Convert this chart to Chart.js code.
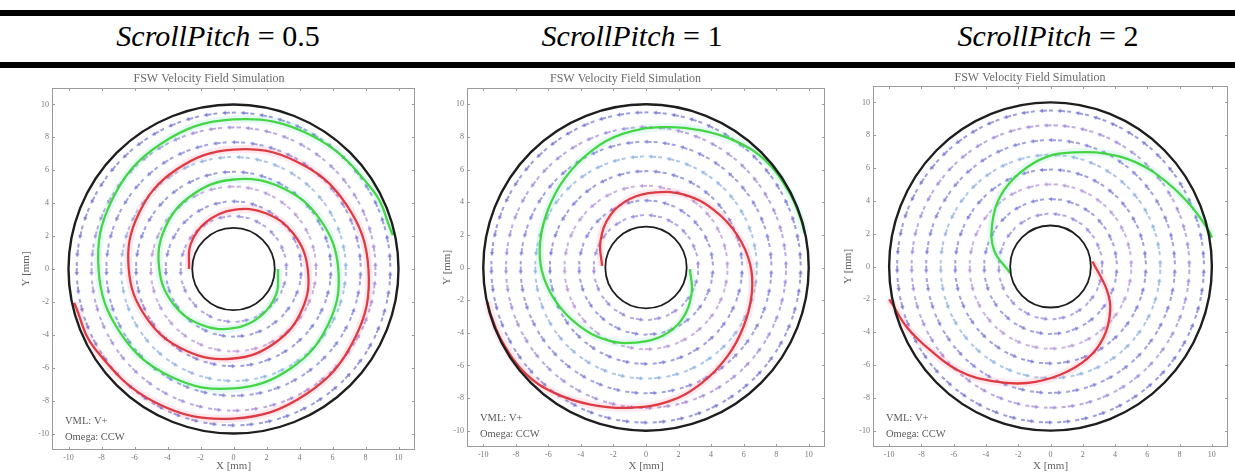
<!DOCTYPE html>
<html>
<head>
<meta charset="utf-8">
<script src="https://cdn.jsdelivr.net/npm/chart.js@4.4.0/dist/chart.umd.min.js"></script>
<style>
  body { margin: 0; width: 1235px; height: 473px; background: #fff; position: relative; overflow: hidden; font-family: "Liberation Serif", serif; }
  .rule { position: absolute; left: 0; width: 1235px; background: #000; }
  .head { position: absolute; top: 19px; font-size: 30px; line-height: 34px; white-space: nowrap; transform: translateX(-50%); color: #000; font-family: "Liberation Serif", serif; }
  .head i { font-style: italic; }
  .panel { position: absolute; top: 70px; height: 403px; }
</style>
</head>
<body>
<div class="rule" style="top:10px;height:6px"></div>
<div class="rule" style="top:62px;height:6px"></div>
<div class="head" style="left:218px"><i>ScrollPitch</i> = 0.5</div>
<div class="head" style="left:632px"><i>ScrollPitch</i> = 1</div>
<div class="head" style="left:1048px"><i>ScrollPitch</i> = 2</div>
<div class="panel" style="left:0;width:422px"><canvas id="c0"></canvas></div>
<div class="panel" style="left:422px;width:410px"><canvas id="c1"></canvas></div>
<div class="panel" style="left:832px;width:403px"><canvas id="c2"></canvas></div>

<script>
// Data
const pitches = ['0.5', '1', '2'];
const xTicks = [-10, -8, -6, -4, -2, 0, 2, 4, 6, 8, 10];
const yTicks = [-10, -8, -6, -4, -2, 0, 2, 4, 6, 8, 10];
const outerRadius = 10;
const innerRadius = 2.5;
const ringRadii = [3.2, 4.1, 5.0, 5.9, 6.8, 7.7, 8.6, 9.5];
const ringCounts = [18, 23, 28, 33, 38, 43, 48, 53];
const notes = ['VML: V+', 'Omega: CCW'];

// spiral tracks, [x, y] in mm
const redPitch05 = [[-2.7,0.0],[-2.6,1.5],[-1.65,2.86],[0,3.6],[1.96,3.39],[3.66,2.11],[4.5,0],[4.18,-2.42],[2.57,-4.45],[0,-5.44],[-2.87,-4.97],[-5.24,-3.02],[-6.35,0],[-5.76,3.33],[-3.48,6.03],[0,7.26],[3.78,6.55],[6.82,3.94],[8.18,0],[7.34,-4.24],[4.39,-7.61],[0,-9.09],[-4.7,-8.13],[-8.4,-4.85],[-9.66,-2.05]];
const greenPitch05 = [[2.7,0.0],[2.6,-1.5],[1.65,-2.86],[0,-3.6],[-1.96,-3.39],[-3.66,-2.11],[-4.5,0],[-4.18,2.42],[-2.57,4.45],[0,5.44],[2.87,4.97],[5.24,3.02],[6.35,0],[5.76,-3.33],[3.48,-6.03],[0,-7.26],[-3.78,-6.55],[-6.82,-3.94],[-8.18,0],[-7.34,4.24],[-4.39,7.61],[0,9.09],[4.7,8.13],[8.4,4.85],[9.66,2.05]];
const redPitch1 = [[-2.7,0.1],[-2.8,1.6],[-2.2,3.2],[-1.0,4.2],[0.6,4.6],[2.4,4.45],[4.2,3.5],[5.6,2.0],[6.4,0.2],[6.5,-1.6],[6.0,-3.6],[5.0,-5.45],[3.4,-7.1],[1.4,-8.2],[-1.0,-8.6],[-3.4,-8.4],[-5.6,-7.7],[-7.4,-6.5],[-8.8,-4.6],[-9.5,-3.0],[-9.75,-2.1]];
const greenPitch1 = [[2.7,-0.1],[2.8,-1.6],[2.2,-3.2],[1.0,-4.2],[-0.6,-4.6],[-2.4,-4.45],[-4.2,-3.5],[-5.6,-2.0],[-6.4,-0.2],[-6.5,1.6],[-6.0,3.6],[-5.0,5.45],[-3.4,7.1],[-1.4,8.2],[1.0,8.6],[3.4,8.4],[5.6,7.7],[7.4,6.5],[8.8,4.6],[9.5,3.0],[9.75,2.1]];
const redPitch2 = [[2.6,0.3],[3.5,-1.45],[3.7,-2.7],[3.3,-4.3],[2.3,-5.6],[0.6,-6.6],[-1.45,-7.1],[-3.5,-7.0],[-5.6,-6.4],[-7.45,-5.1],[-8.9,-3.7],[-9.8,-2.3],[-10.0,-2.0]];
const greenPitch2 = [[-2.5,-0.4],[-3.5,1.0],[-3.6,2.7],[-3.1,4.3],[-1.85,5.75],[-0.2,6.7],[1.45,6.95],[3.3,6.9],[5.4,6.3],[7.25,5.1],[8.7,3.7],[9.8,2.2],[10.0,1.75]];
const redSpirals = [redPitch05, redPitch1, redPitch2];
const greenSpirals = [greenPitch05, greenPitch1, greenPitch2];

// styles / layout
const ringColors = ['rgba(130,110,215,0.8)', 'rgba(100,100,210,0.8)', 'rgba(160,115,205,0.72)', 'rgba(95,95,205,0.8)',
                    'rgba(115,160,220,0.78)', 'rgba(100,100,208,0.8)', 'rgba(140,112,210,0.78)', 'rgba(90,90,200,0.8)'];
const layouts = [
  { yw: 52, xh: 23, right: 4, tTop: 2, tBot: 1.6, yPad: 20 },
  { yw: 45, xh: 26, right: 3, tTop: 2, tBot: 1.6, yPad: 19 },
  { yw: 41, xh: 26, right: 7, tTop: 1, tBot: 0.6, yPad: 10 }
];
const serif = '"Liberation Serif", serif';

function arrowImg(color) {
  const c = document.createElement('canvas');
  c.width = 14; c.height = 6;
  const g = c.getContext('2d');
  g.strokeStyle = color; g.lineWidth = 1.5;
  g.setLineDash([4, 2]);
  g.beginPath(); g.moveTo(0, 3); g.lineTo(11, 3); g.stroke();
  g.setLineDash([]);
  g.fillStyle = color;
  g.beginPath(); g.moveTo(14, 3); g.lineTo(10, 1); g.lineTo(10, 5); g.closePath(); g.fill();
  return c;
}
const arrowImgs = ringColors.map(arrowImg);

// arrows sit on rings, pointing along the CCW rotation
const field = [];
ringRadii.forEach((r, i) => {
  for (let k = 0; k < ringCounts[i]; k++) {
    const a = (k + 0.5 * (i % 2)) / ringCounts[i] * 2 * Math.PI;
    field.push({ x: r * Math.cos(a), y: r * Math.sin(a), a: a, ring: i });
  }
});

const toXY = arr => arr.map(p => ({ x: p[0], y: p[1] }));

const extras = {
  id: 'extras',
  afterDatasetsDraw(chart) {
    const ctx = chart.ctx, sx = chart.scales.x, sy = chart.scales.y, ca = chart.chartArea;
    const cx = sx.getPixelForValue(0), cy = sy.getPixelForValue(0);
    ctx.save();
    [[outerRadius, 2.4], [innerRadius, 1.8]].forEach(([r, w]) => {
      ctx.beginPath();
      ctx.ellipse(cx, cy, sx.getPixelForValue(r) - cx, cy - sy.getPixelForValue(r), 0, 0, 2 * Math.PI);
      ctx.lineWidth = w; ctx.strokeStyle = '#1e1e1e'; ctx.stroke();
    });
    // frame + inward ticks
    ctx.strokeStyle = '#9a9a9a'; ctx.lineWidth = 1;
    ctx.strokeRect(ca.left + 0.5, ca.top + 0.5, ca.right - ca.left - 1, ca.bottom - ca.top - 1);
    ctx.beginPath();
    xTicks.forEach(v => {
      const px = Math.round(sx.getPixelForValue(v)) + 0.5;
      ctx.moveTo(px, ca.bottom); ctx.lineTo(px, ca.bottom - 3);
      ctx.moveTo(px, ca.top); ctx.lineTo(px, ca.top + 3);
    });
    yTicks.forEach(v => {
      const py = Math.round(sy.getPixelForValue(v)) + 0.5;
      ctx.moveTo(ca.left, py); ctx.lineTo(ca.left + 3, py);
      ctx.moveTo(ca.right, py); ctx.lineTo(ca.right - 3, py);
    });
    ctx.stroke();
    // notes
    ctx.fillStyle = '#5a5a5a';
    ctx.font = '10.5px ' + serif;
    ctx.textBaseline = 'alphabetic';
    ctx.fillText(notes[0], ca.left + 13, ca.bottom - 26);
    ctx.fillText(notes[1], ca.left + 13, ca.bottom - 10);
    ctx.restore();
  }
};

pitches.forEach((p, i) => {
  const L = layouts[i];
  new Chart(document.getElementById('c' + i), {
    type: 'scatter',
    data: {
      datasets: [
        { data: toXY(redSpirals[i]), showLine: true, tension: 0.4, pointRadius: 0, borderColor: 'rgba(222,50,58,0.95)', borderWidth: 2.3 },
        { data: toXY(greenSpirals[i]), showLine: true, tension: 0.4, pointRadius: 0, borderColor: 'rgba(60,212,60,0.95)', borderWidth: 2.3 },
        { data: toXY(redSpirals[i]), showLine: true, tension: 0.4, pointRadius: 0, borderColor: 'rgba(240,120,150,0.16)', borderWidth: 8 },
        { data: toXY(greenSpirals[i]), showLine: true, tension: 0.4, pointRadius: 0, borderColor: 'rgba(120,220,200,0.18)', borderWidth: 8 },
        {
          data: field.map(f => ({ x: f.x, y: f.y })),
          showLine: false,
          pointRadius: 6,
          pointStyle: c => c.dataIndex === undefined ? 'line' : arrowImgs[field[c.dataIndex].ring],
          pointRotation: c => c.dataIndex === undefined ? 0 : -(field[c.dataIndex].a * 180 / Math.PI + 90)
        }
      ]
    },
    options: {
      responsive: true,
      maintainAspectRatio: false,
      animation: false,
      events: [],
      layout: { padding: { left: 0, right: L.right, top: 0, bottom: 0 } },
      plugins: {
        legend: { display: false },
        tooltip: { enabled: false },
        title: {
          display: true, text: 'FSW Velocity Field Simulation', color: '#6a6a6a',
          font: { family: serif, size: 12, weight: 'normal' }, padding: { top: L.tTop, bottom: L.tBot }
        }
      },
      scales: {
        x: {
          type: 'linear', min: -11, max: 11,
          afterBuildTicks: s => { s.ticks = xTicks.map(v => ({ value: v })); },
          afterFit: s => { s.height = L.xh; },
          grid: { display: false, drawTicks: false, tickLength: 0 }, border: { display: false },
          ticks: { color: '#777', font: { family: serif, size: 8 }, padding: 3, maxRotation: 0, autoSkip: false },
          title: { display: true, text: 'X [mm]', color: '#666', font: { family: serif, size: 11 }, padding: { top: 0, bottom: 0 } }
        },
        y: {
          type: 'linear', min: -11, max: 11,
          afterBuildTicks: s => { s.ticks = yTicks.map(v => ({ value: v })); },
          afterFit: s => { s.width = L.yw; },
          grid: { display: false, drawTicks: false, tickLength: 0 }, border: { display: false },
          ticks: { color: '#777', font: { family: serif, size: 8 }, padding: 3, autoSkip: false },
          title: { display: true, text: 'Y [mm]', color: '#666', font: { family: serif, size: 11 }, padding: { top: L.yPad, bottom: 0 } }
        }
      }
    },
    plugins: [extras]
  });
});
</script>
</body>
</html>
